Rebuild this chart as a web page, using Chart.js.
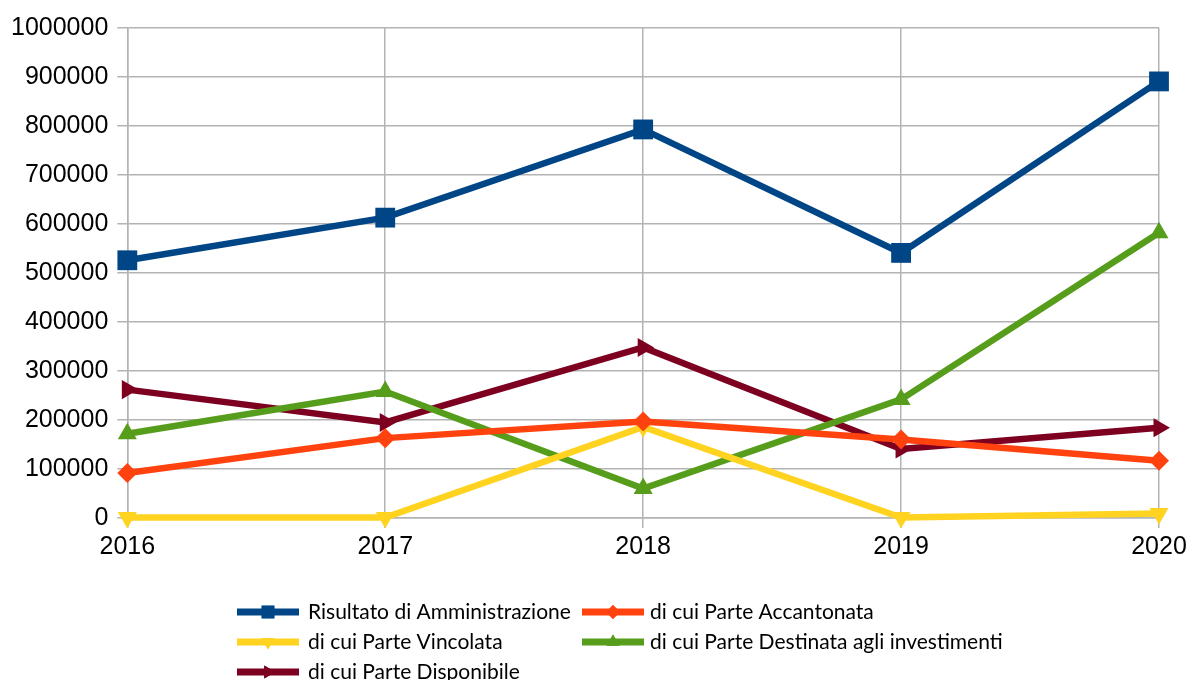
<!DOCTYPE html>
<html>
<head>
<meta charset="utf-8">
<script src="https://cdn.jsdelivr.net/npm/chart.js@4/dist/chart.umd.min.js"></script>
<style>
html,body{margin:0;padding:0;background:#fff;}
#wrap{width:1186px;height:680px;position:relative;}
</style>
</head>
<body>
<div id="wrap"><canvas id="c" width="1186" height="680"></canvas></div>
<script>
const years = ['2016', '2017', '2018', '2019', '2020'];
const risultato = [526000, 613000, 793000, 541000, 891000];
const accantonata = [92000, 163000, 197000, 160000, 117000];
const vincolata = [1000, 1000, 186000, 1000, 9000];
const destinata = [172000, 258000, 60000, 242000, 582000];
const disponibile = [262000, 195000, 348000, 141000, 184000];
const seriesNames = [
  'Risultato di Amministrazione',
  'di cui Parte Accantonata',
  'di cui Parte Vincolata',
  'di cui Parte Destinata agli investimenti',
  'di cui Parte Disponibile'
];

const styles = [
  {color:'#004586', pointStyle:'rect', r:14, rot:0, lr:9},
  {color:'#ff420e', pointStyle:'rectRot', r:10, rot:0, lr:7},
  {color:'#ffd320', pointStyle:'triangle', r:11, rot:180, lr:7.5},
  {color:'#579d1c', pointStyle:'triangle', r:11, rot:0, lr:7.5},
  {color:'#7e0021', pointStyle:'triangle', r:11, rot:90, lr:7.5}
];
const values = [risultato, accantonata, vincolata, destinata, disponibile];

const datasets = values.map((v, i) => ({
  label: seriesNames[i],
  data: v,
  borderColor: styles[i].color,
  backgroundColor: styles[i].color,
  borderWidth: 6.5,
  pointStyle: styles[i].pointStyle,
  pointRadius: styles[i].r,
  pointHoverRadius: styles[i].r,
  pointRotation: styles[i].rot,
  pointBorderWidth: 0,
  clip: false,
  tension: 0
}));

const legendPlugin = {
  id: 'customLegend',
  afterDraw(chart) {
    const ctx = chart.ctx;
    const colLine = [237, 582];
    const colText = [308, 650];
    ctx.save();
    chart.data.datasets.forEach((ds, i) => {
      const col = i % 2, row = Math.floor(i / 2);
      const y = 612 + row * 30;
      const x0 = colLine[col], x1 = x0 + 62;
      ctx.strokeStyle = ds.borderColor;
      ctx.lineWidth = 7;
      ctx.beginPath();
      ctx.moveTo(x0, y);
      ctx.lineTo(x1, y);
      ctx.stroke();
      ctx.fillStyle = ds.borderColor;
      Chart.helpers.drawPoint(ctx, {pointStyle: styles[i].pointStyle, radius: styles[i].lr, rotation: styles[i].rot, borderWidth: 0}, (x0 + x1) / 2, y);
      ctx.fill();
      ctx.fillStyle = '#000';
      ctx.font = '21px Lato';
      ctx.textBaseline = 'middle';
      ctx.textAlign = 'left';
      ctx.fillText(ds.label, colText[col], y);
    });
    ctx.restore();
  }
};

new Chart(document.getElementById('c'), {
  type: 'line',
  data: { labels: years, datasets },
  options: {
    responsive: false,
    animation: false,
    layout: { padding: { left: 2, right: 27, top: 28, bottom: 114 } },
    plugins: { legend: { display: false }, tooltip: { enabled: false } },
    scales: {
      x: {
        offset: false,
        afterFit(scale) { scale.paddingRight = 0; scale.paddingLeft = 0; },
        grid: { color: '#b3b3b3', tickLength: 10, lineWidth: 1.5 },
        border: { color: '#b3b3b3', width: 1.5 },
        ticks: { color: '#000', font: { family: 'Liberation Sans', size: 25 }, padding: 4, maxRotation: 0 }
      },
      y: {
        min: 0, max: 1000000,
        grid: { color: '#b3b3b3', tickLength: 10, lineWidth: 1.5 },
        border: { color: '#b3b3b3', width: 1.5 },
        ticks: { stepSize: 100000, color: '#000', font: { family: 'Liberation Sans', size: 25 }, padding: 9, callback: v => String(v) }
      }
    }
  },
  plugins: [legendPlugin]
});
</script>
</body>
</html>
